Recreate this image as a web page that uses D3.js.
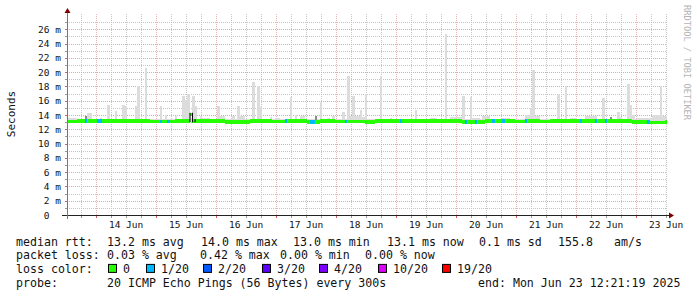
<!DOCTYPE html>
<html>
<head>
<meta charset="utf-8">
<script src="https://cdn.jsdelivr.net/npm/d3@7"></script>
<style>
    html, body { margin: 0; padding: 0; background: #fff; }
    svg { display: block; font-family: "DejaVu Sans Mono", monospace; }
</style>
</head>
<body>
<svg id="chart" width="697" height="297"></svg>
<script>
// smokeping style graph, 10 days of hourly steps ending at the "end:" stamp
var endTime = Date.UTC(2025, 5, 23, 12, 21, 19);
var startTime = endTime - 10 * 24 * 3600 * 1000;
var stepMs = 3600 * 1000;

// median rtt per hour (ms)
var medianRtt = [
    13.1, 13.1, 13.1, 13.1, 13.2, 13.2, 13.2, 13.2, 13.2, 13.2, 13.2, 13.2, 13.2, 13.2, 13.2, 13.2, 13.2, 13.2, 13.2, 13.2, 13.2, 13.2, 13.2, 13.2,
    13.2, 13.2, 13.2, 13.2, 13.2, 13.2, 13.2, 13.2, 13.2, 13.1, 13.1, 13.1, 13.1, 13.1, 13.1, 13.1, 13.1, 13.1, 13.1, 13.2, 13.2, 13.2, 13.2, 13.2,
    13.2, 14.1, 13.2, 13.2, 13.2, 13.2, 13.2, 13.2, 13.2, 13.2, 13.2, 13.2, 13.2, 13.2, 13.2, 13.05, 13.05, 13.05, 13.05, 13.05, 13.05, 13.05, 13.05, 13.05,
    13.05, 13.2, 13.2, 13.2, 13.2, 13.2, 13.2, 13.2, 13.2, 13.2, 13.1, 13.1, 13.1, 13.1, 13.1, 13.15, 13.15, 13.15, 13.15, 13.15, 13.15, 13.15, 13.15, 13.15,
    13.05, 13.05, 13.05, 13.05, 13.05, 13.2, 13.2, 13.2, 13.2, 13.2, 13.2, 13.1, 13.1, 13.1, 13.1, 13.1, 13.1, 13.1, 13.1, 13.1, 13.1, 13.1, 13.1, 13.05,
    13.05, 13.05, 13.05, 13.2, 13.2, 13.2, 13.2, 13.2, 13.2, 13.2, 13.2, 13.2, 13.2, 13.2, 13.2, 13.2, 13.2, 13.2, 13.2, 13.2, 13.2, 13.2, 13.2, 13.2,
    13.2, 13.2, 13.2, 13.2, 13.2, 13.2, 13.2, 13.2, 13.2, 13.2, 13.2, 13.2, 13.2, 13.2, 13.05, 13.05, 13.05, 13.05, 13.05, 13.05, 13.05, 13.05, 13.05, 13.2,
    13.2, 13.2, 13.2, 13.2, 13.2, 13.2, 13.2, 13.2, 13.2, 13.2, 13.2, 13.1, 13.1, 13.1, 13.1, 13.2, 13.2, 13.2, 13.2, 13.2, 13.2, 13.1, 13.1, 13.1,
    13.1, 13.2, 13.2, 13.2, 13.2, 13.2, 13.2, 13.2, 13.2, 13.2, 13.2, 13.2, 13.2, 13.2, 13.2, 13.2, 13.2, 13.2, 13.2, 13.2, 13.2, 13.2, 13.2, 13.2,
    13.2, 13.2, 13.2, 13.2, 13.2, 13.2, 13.2, 13.2, 13.2, 13.2, 13.05, 13.05, 13.05, 13.05, 13.05, 13.05, 13.05, 13.0, 13.0, 13.0, 13.0, 13.0, 13.0, 13.05
];

// top of the ping spread ("smoke") per hour (ms)
var smokeTop = [
    13.6, 13.6, 13.6, 13.6, 13.5, 13.5, 13.5, 13.8, 14.3, 14.3, 13.5, 13.5, 13.5, 13.6, 13.5, 13.5, 15.45, 13.5, 13.5, 14.6, 13.5, 13.5, 15.45, 15.3,
    13.5, 13.5, 13.5, 15.3, 18.0, 13.5, 13.5, 20.6, 13.5, 13.5, 13.5, 13.5, 13.5, 15.3, 13.5, 14.05, 13.5, 13.5, 13.5, 13.9, 13.5, 13.5, 16.7, 16.1,
    17.0, 13.6, 16.6, 15.3, 13.5, 13.8, 13.6, 13.6, 13.6, 13.5, 13.5, 13.5, 15.3, 13.8, 13.8, 13.5, 13.5, 13.5, 13.9, 13.5, 15.2, 13.8, 13.8, 13.5,
    13.5, 13.5, 18.6, 13.5, 18.0, 15.1, 13.5, 13.5, 13.5, 13.7, 13.5, 13.6, 13.6, 13.5, 13.5, 13.5, 13.5, 16.5, 13.5, 14.05, 13.5, 13.8, 13.8, 13.5,
    13.5, 13.5, 13.5, 13.9, 13.5, 15.8, 13.5, 13.5, 13.6, 13.5, 13.8, 13.5, 13.5, 13.5, 14.45, 13.5, 19.5, 13.9, 16.6, 13.9, 13.9, 14.75, 13.7, 17.0,
    13.5, 13.5, 13.5, 13.5, 13.5, 19.4, 13.5, 13.5, 13.5, 13.6, 13.5, 13.5, 13.5, 13.5, 13.5, 13.5, 13.5, 13.5, 13.5, 14.75, 13.5, 13.5, 13.5, 13.5,
    13.5, 13.6, 13.6, 13.6, 13.5, 13.5, 13.5, 25.4, 13.5, 13.7, 13.7, 13.7, 13.7, 13.7, 16.7, 13.5, 13.5, 16.5, 13.6, 13.6, 13.6, 13.5, 13.8, 13.8,
    13.8, 13.5, 13.5, 13.5, 13.5, 13.5, 13.6, 13.6, 13.6, 13.5, 13.5, 13.5, 13.5, 13.5, 13.5, 14.0, 14.0, 15.0, 20.3, 13.9, 13.9, 13.5, 13.5, 13.5,
    13.4, 13.4, 13.5, 13.5, 16.95, 13.5, 13.5, 18.1, 13.5, 13.6, 13.6, 13.6, 13.5, 13.5, 13.5, 13.9, 13.9, 13.9, 13.9, 13.9, 13.5, 13.5, 16.35, 13.5,
    13.5, 13.7, 13.5, 13.5, 14.45, 13.7, 13.5, 13.5, 18.4, 15.45, 14.0, 13.5, 13.6, 13.6, 13.6, 13.6, 13.6, 13.6, 14.0, 14.0, 14.0, 18.0, 13.9, 13.9
];
var smokeBottom = 13.0;

// denser part of the smoke [hour, top ms]
var darkSmoke = [[7, 13.8], [99, 13.9], [217, 13.7]];

// hours with lost pings [hour, lost of 20]
var lossHours = [[7, 1], [12, 1], [13, 1], [37, 1], [40, 1], [87, 1], [97, 1], [98, 1], [111, 1],
    [133, 1], [159, 1], [163, 1], [170, 1], [174, 1], [183, 1], [205, 1], [211, 1], [215, 1], [232, 1]];

var yTicks = [0, 2, 4, 6, 8, 10, 12, 14, 16, 18, 20, 22, 24, 26];
var lossSteps = [0, 1, 2, 3, 4, 10, 19];
var lossLabels = ["0", "1/20", "2/20", "3/20", "4/20", "10/20", "19/20"];
var lossColors = ["#26ff00", "#00b8ff", "#0059ff", "#5e00ff", "#7e00ff", "#dd00ff", "#ff0000"];

var medianStats = ["13.2 ms avg", "14.0 ms max", "13.0 ms min", "13.1 ms now", "0.1 ms sd", "155.8", "am/s"];
var lossStats = ["0.03 % avg", "0.42 % max", "0.00 % min", "0.00 % now"];
var probeText = "20 ICMP Echo Pings (56 Bytes) every 300s";
var endText = "end: Mon Jun 23 12:21:19 2025";

(function () {
    var svg = d3.select("#chart");
    var pLeft = 67, pRight = 667, pTop = 15, pBottom = 215;

    var x = d3.scaleUtc().domain([startTime, endTime]).range([pLeft, pRight]);
    var y = d3.scaleLinear().domain([0, 28]).range([pBottom, pTop]);

    var lossOf = medianRtt.map(function () { return 0; });
    lossHours.forEach(function (d) { lossOf[d[0]] = d[1]; });
    function lossColor(n) {
        var idx = 0;
        lossSteps.forEach(function (s, i) { if (n >= s) idx = i; });
        return lossColors[idx];
    }
    function tAt(i) { return startTime + i * stepMs; }
    function px(v) { return Math.round(v) + 0.5; }

    // grid
    var grid = svg.append("g").attr("stroke-dasharray", "1,1");
    var minorX = d3.utcHour.every(6).range(new Date(startTime), new Date(endTime));
    var majorX = d3.utcDay.range(new Date(startTime), new Date(endTime));
    grid.selectAll("line.vminor").data(minorX.filter(function (d) { return d.getUTCHours() !== 0; }))
        .enter().append("line")
        .attr("x1", function (d) { return px(x(d)); })
        .attr("x2", function (d) { return px(x(d)); })
        .attr("y1", pBottom).attr("y2", 13)
        .attr("stroke", "#c6c6c6");
    grid.selectAll("line.hminor").data(d3.range(1, 28).filter(function (v) { return v % 2 === 1; }))
        .enter().append("line")
        .attr("x1", pLeft).attr("x2", pRight)
        .attr("y1", function (d) { return px(y(d)); })
        .attr("y2", function (d) { return px(y(d)); })
        .attr("stroke", "#c6c6c6");
    grid.selectAll("line.vmajor").data(majorX)
        .enter().append("line")
        .attr("x1", function (d) { return px(x(d)); })
        .attr("x2", function (d) { return px(x(d)); })
        .attr("y1", pBottom).attr("y2", 13)
        .attr("stroke", "#ebb4b4");
    grid.selectAll("line.hmajor").data(yTicks.filter(function (v) { return v > 0; }))
        .enter().append("line")
        .attr("x1", pLeft).attr("x2", pRight)
        .attr("y1", function (d) { return px(y(d)); })
        .attr("y2", function (d) { return px(y(d)); })
        .attr("stroke", "#e6a6a6");

    // smoke
    svg.append("g").selectAll("rect").data(smokeTop)
        .enter().append("rect")
        .attr("x", function (d, i) { return x(tAt(i)); })
        .attr("width", function (d, i) { return x(tAt(i + 1)) - x(tAt(i)); })
        .attr("y", function (d) { return y(d); })
        .attr("height", function (d) { return Math.max(0, y(smokeBottom) - y(d)); })
        .attr("fill", "#dcdcdc")
        .attr("shape-rendering", "crispEdges");
    svg.append("g").selectAll("rect").data(darkSmoke)
        .enter().append("rect")
        .attr("x", function (d) { return x(tAt(d[0])); })
        .attr("width", function (d) { return x(tAt(d[0] + 1)) - x(tAt(d[0])); })
        .attr("y", function (d) { return y(d[1]); })
        .attr("height", function (d) { return Math.max(0, y(medianRtt[d[0]]) - y(d[1])); })
        .attr("fill", "#8a8a8a")
        .attr("shape-rendering", "crispEdges");

    // median band coloured by loss
    var med = svg.append("g");
    med.selectAll("rect").data(medianRtt)
        .enter().append("rect")
        .attr("x", function (d, i) { return x(tAt(i)); })
        .attr("width", function (d, i) { return x(tAt(i + 1)) - x(tAt(i)) + 0.3; })
        .attr("y", function (d) { return y(d) - 1.6; })
        .attr("height", 3.4)
        .attr("fill", function (d, i) { return lossColor(lossOf[i]); })
        .attr("shape-rendering", "crispEdges");
    var jumps = [];
    medianRtt.forEach(function (d, i) {
        if (i > 0 && Math.abs(y(d) - y(medianRtt[i - 1])) > 3) jumps.push(i);
    });
    med.selectAll("line.up").data(jumps)
        .enter().append("line")
        .attr("x1", function (i) { return x(tAt(i)) + 0.5; })
        .attr("x2", function (i) { return x(tAt(i)) + 0.5; })
        .attr("y1", function (i) { return y(medianRtt[i - 1]) + 1.5; })
        .attr("y2", function (i) { return y(medianRtt[i]) - 1.5; })
        .attr("stroke", "#000").attr("stroke-width", 1);
    med.selectAll("line.down").data(jumps)
        .enter().append("line")
        .attr("x1", function (i) { return x(tAt(i + 1)) + 0.5; })
        .attr("x2", function (i) { return x(tAt(i + 1)) + 0.5; })
        .attr("y1", function (i) { return y(medianRtt[i]) - 1.5; })
        .attr("y2", function (i) { return y(medianRtt[i + 1]) + 1.5; })
        .attr("stroke", "#000").attr("stroke-width", 1);

    // axes
    var axes = svg.append("g");
    axes.append("line").attr("x1", pLeft - 5).attr("x2", pRight + 3)
        .attr("y1", pBottom + 0.5).attr("y2", pBottom + 0.5).attr("stroke", "#222");
    axes.append("line").attr("x1", pLeft + 0.5).attr("x2", pLeft + 0.5)
        .attr("y1", pBottom + 4).attr("y2", 11).attr("stroke", "#777");
    axes.append("path")
        .attr("d", "M" + (pRight + 2) + "," + (pBottom - 2.5) + "L" + (pRight + 7) + "," + (pBottom + 0.5) + "L" + (pRight + 2) + "," + (pBottom + 3.5) + "Z")
        .attr("fill", "#7f0000");
    axes.append("path")
        .attr("d", "M" + (pLeft - 2.5) + ",13L" + (pLeft + 0.5) + ",8L" + (pLeft + 3.5) + ",13Z")
        .attr("fill", "#7f0000");
    axes.selectAll("line.ytick").data(d3.range(1, 28))
        .enter().append("line")
        .attr("x1", pLeft - 2).attr("x2", pLeft)
        .attr("y1", function (d) { return px(y(d)); })
        .attr("y2", function (d) { return px(y(d)); })
        .attr("stroke", function (d) { return d % 2 ? "#999" : "#d06060"; });
    axes.selectAll("line.xtick").data(minorX)
        .enter().append("line")
        .attr("x1", function (d) { return px(x(d)); })
        .attr("x2", function (d) { return px(x(d)); })
        .attr("y1", pBottom + 1).attr("y2", pBottom + 3)
        .attr("stroke", function (d) { return d.getUTCHours() === 0 ? "#d06060" : "#999"; });

    // tick labels
    svg.append("g").selectAll("text").data(yTicks)
        .enter().append("text")
        .attr("x", 61)
        .attr("y", function (d) { return y(d) + 3.5; })
        .attr("text-anchor", "end")
        .attr("font-size", "9.5px")
        .attr("fill", "#111")
        .text(function (d) { return d === 0 ? "0\u00a0\u00a0" : d + " m"; });
    var fmt = d3.utcFormat("%d %b");
    svg.append("g").selectAll("text").data(majorX)
        .enter().append("text")
        .attr("x", function (d) { return x(d3.utcHour.offset(d, 12)); })
        .attr("y", 228)
        .attr("text-anchor", "middle")
        .attr("font-size", "9.5px")
        .attr("fill", "#111")
        .text(function (d) { return fmt(d); });

    svg.append("text")
        .attr("transform", "translate(15,114) rotate(-90)")
        .attr("text-anchor", "middle")
        .attr("font-size", "11px")
        .attr("fill", "#111")
        .text("Seconds");

    svg.append("text")
        .attr("transform", "translate(684,5) rotate(90)")
        .attr("font-size", "8.7px")
        .attr("fill", "#b4b4b4")
        .text("RRDTOOL / TOBI OETIKER");

    // legend
    var leg = svg.append("g").attr("font-size", "11.6px").attr("fill", "#111");
    var rowY = [245.5, 259.2, 272.9, 286.6];
    leg.append("text").attr("x", 16).attr("y", rowY[0]).text("median rtt:");
    leg.append("text").attr("x", 16).attr("y", rowY[1]).text("packet loss:");
    leg.append("text").attr("x", 16).attr("y", rowY[2]).text("loss color:");
    leg.append("text").attr("x", 16).attr("y", rowY[3]).text("probe:");

    var medianX = [107, 201, 293, 387, 479, 558, 614];
    leg.selectAll("text.med").data(medianStats)
        .enter().append("text")
        .attr("x", function (d, i) { return medianX[i]; })
        .attr("y", rowY[0])
        .text(function (d) { return d; });
    var lossX = [107, 200, 280, 365];
    leg.selectAll("text.loss").data(lossStats)
        .enter().append("text")
        .attr("x", function (d, i) { return lossX[i]; })
        .attr("y", rowY[1])
        .text(function (d) { return d; });

    var boxX = [108, 146, 203, 262, 319, 378, 442];
    leg.selectAll("rect").data(lossLabels)
        .enter().append("rect")
        .attr("x", function (d, i) { return boxX[i] + 0.5; })
        .attr("y", rowY[2] - 8.5)
        .attr("width", 8).attr("height", 8)
        .attr("fill", function (d, i) { return lossColors[i]; })
        .attr("stroke", "#000");
    leg.selectAll("text.lc").data(lossLabels)
        .enter().append("text")
        .attr("x", function (d, i) { return boxX[i] + 15; })
        .attr("y", rowY[2])
        .text(function (d) { return d; });

    leg.append("text").attr("x", 107).attr("y", rowY[3]).text(probeText);
    leg.append("text").attr("x", 478).attr("y", rowY[3]).text(endText);
})();
</script>
</body>
</html>
